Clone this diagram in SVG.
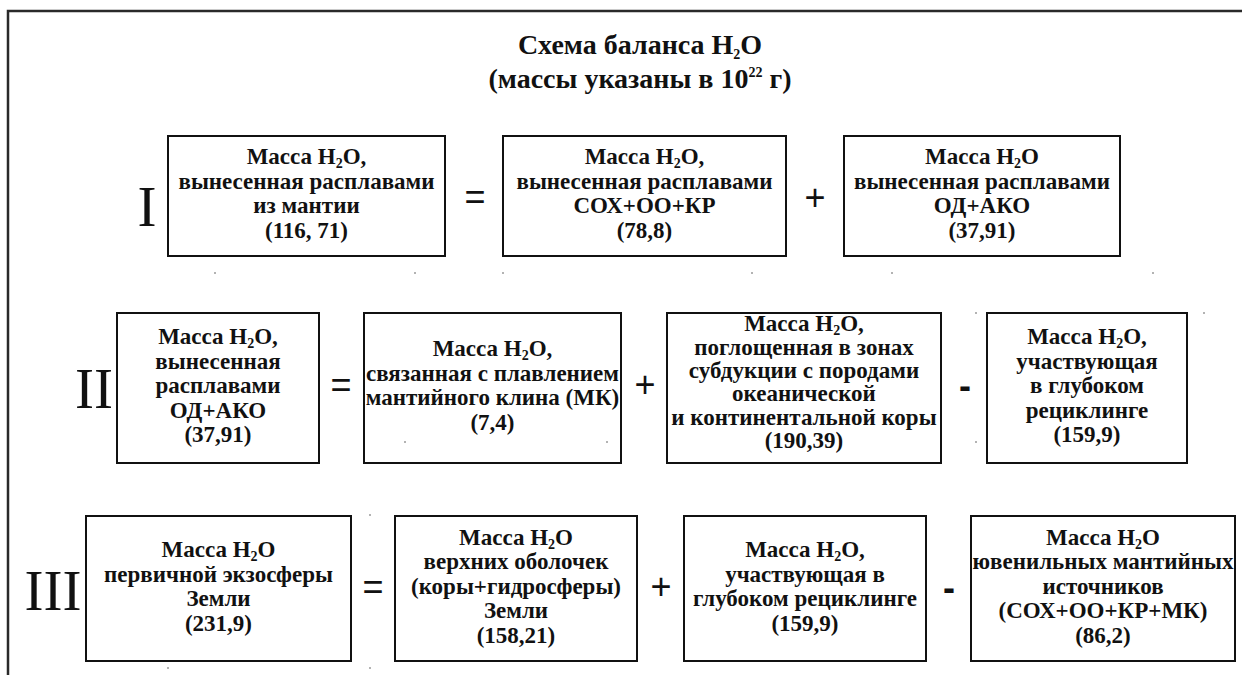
<svg xmlns="http://www.w3.org/2000/svg" width="1242" height="675" viewBox="0 0 1242 675">
  <style>
    .frame { fill: none; stroke: #2a2a2a; stroke-width: 2.5; }
    .box { fill: #fff; stroke: #111; stroke-width: 2; }
    .t { font-family: "Liberation Serif", "Times New Roman", serif; font-weight: bold; font-size: 23px; text-anchor: middle; fill: #111; }
    .title { font-family: "Liberation Serif", "Times New Roman", serif; font-weight: bold; font-size: 28px; text-anchor: middle; fill: #111; }
    .sub { font-size: 14px; }
    .num { font-family: "Liberation Serif", "Times New Roman", serif; font-size: 57px; text-anchor: middle; fill: #111; }
    .op { font-family: "Liberation Sans", Arial, sans-serif; font-size: 36px; text-anchor: middle; fill: #111; }
    .minus { font-family: "Liberation Sans", Arial, sans-serif; font-weight: bold; font-size: 36px; text-anchor: middle; fill: #111; }
    .dot { fill: #9a9a9a; }
  </style>

  <rect width="1242" height="675" fill="#fff"/>
  <!-- page frame: left and top edges only -->
  <path class="frame" d="M8,675 V11 H1242"/>

  <!-- heading -->
  <g id="title">
    <text class="title" x="640" y="54">Схема баланса H<tspan class="sub" font-size="17" dy="5">2</tspan><tspan dy="-5">O</tspan></text>
    <text class="title" x="640" y="88">(массы указаны в 10<tspan class="sub" font-size="15" dy="-11">22</tspan><tspan dy="11"> г)</tspan></text>
  </g>

  <!-- row numbers -->
  <g id="row-labels">
    <text class="num" x="147" y="226">I</text>
    <text class="num" x="94" y="408">II</text>
    <text class="num" x="53" y="610">III</text>
  </g>

  <!-- Row I -->
  <g id="r1-total">
    <rect class="box" x="168" y="136" width="277" height="120"/>
    <text class="t" x="306.5" y="164">Масса H<tspan class="sub" dy="4">2</tspan><tspan dy="-4">O,</tspan></text>
    <text class="t" x="306.5" y="189">вынесенная расплавами</text>
    <text class="t" x="306.5" y="213">из мантии</text>
    <text class="t" x="306.5" y="238">(116, 71)</text>
  </g>
  <g id="r1-sox">
    <rect class="box" x="503" y="136" width="283" height="120"/>
    <text class="t" x="644.5" y="164">Масса H<tspan class="sub" dy="4">2</tspan><tspan dy="-4">O,</tspan></text>
    <text class="t" x="644.5" y="189">вынесенная расплавами</text>
    <text class="t" x="644.5" y="213">СОХ+ОО+КР</text>
    <text class="t" x="644.5" y="238">(78,8)</text>
  </g>
  <g id="r1-od">
    <rect class="box" x="844" y="136" width="276" height="120"/>
    <text class="t" x="982" y="164">Масса H<tspan class="sub" dy="4">2</tspan><tspan dy="-4">O</tspan></text>
    <text class="t" x="982" y="189">вынесенная расплавами</text>
    <text class="t" x="982" y="213">ОД+АКО</text>
    <text class="t" x="982" y="238">(37,91)</text>
  </g>

  <!-- Row II -->
  <g id="r2-od">
    <rect class="box" x="117" y="313" width="202" height="150"/>
    <text class="t" x="218" y="344">Масса H<tspan class="sub" dy="4">2</tspan><tspan dy="-4">O,</tspan></text>
    <text class="t" x="218" y="368.5">вынесенная</text>
    <text class="t" x="218" y="393">расплавами</text>
    <text class="t" x="218" y="417.5">ОД+АКО</text>
    <text class="t" x="218" y="442">(37,91)</text>
  </g>
  <g id="r2-mk">
    <rect class="box" x="364" y="313" width="257" height="150"/>
    <text class="t" x="492.5" y="356">Масса H<tspan class="sub" dy="4">2</tspan><tspan dy="-4">O,</tspan></text>
    <text class="t" x="492.5" y="380.5">связанная с плавлением</text>
    <text class="t" x="492.5" y="405">мантийного клина (МК)</text>
    <text class="t" x="492.5" y="429.5">(7,4)</text>
  </g>
  <g id="r2-subduction">
    <rect class="box" x="667" y="313" width="274" height="150"/>
    <text class="t" x="804" y="331">Масса H<tspan class="sub" dy="4">2</tspan><tspan dy="-4">O,</tspan></text>
    <text class="t" x="804" y="354.5">поглощенная в зонах</text>
    <text class="t" x="804" y="378">субдукции с породами</text>
    <text class="t" x="804" y="401">океанической</text>
    <text class="t" x="804" y="424.5">и континентальной коры</text>
    <text class="t" x="804" y="448">(190,39)</text>
  </g>
  <g id="r2-recycling">
    <rect class="box" x="987" y="313" width="200" height="150"/>
    <text class="t" x="1087" y="344">Масса H<tspan class="sub" dy="4">2</tspan><tspan dy="-4">O,</tspan></text>
    <text class="t" x="1087" y="368.5">участвующая</text>
    <text class="t" x="1087" y="393">в глубоком</text>
    <text class="t" x="1087" y="417.5">рециклинге</text>
    <text class="t" x="1087" y="442">(159,9)</text>
  </g>

  <!-- Row III -->
  <g id="r3-exosphere">
    <rect class="box" x="86" y="516" width="265" height="145"/>
    <text class="t" x="218.5" y="557">Масса H<tspan class="sub" dy="4">2</tspan><tspan dy="-4">O</tspan></text>
    <text class="t" x="218.5" y="581.5">первичной экзосферы</text>
    <text class="t" x="218.5" y="606">Земли</text>
    <text class="t" x="218.5" y="630.5">(231,9)</text>
  </g>
  <g id="r3-shells">
    <rect class="box" x="395" y="516" width="242" height="145"/>
    <text class="t" x="516" y="544.5">Масса H<tspan class="sub" dy="4">2</tspan><tspan dy="-4">O</tspan></text>
    <text class="t" x="516" y="569">верхних оболочек</text>
    <text class="t" x="516" y="593.5">(коры+гидросферы)</text>
    <text class="t" x="516" y="618">Земли</text>
    <text class="t" x="516" y="642.5">(158,21)</text>
  </g>
  <g id="r3-recycling">
    <rect class="box" x="684" y="516" width="242" height="145"/>
    <text class="t" x="805" y="557">Масса H<tspan class="sub" dy="4">2</tspan><tspan dy="-4">O,</tspan></text>
    <text class="t" x="805" y="581.5">участвующая в</text>
    <text class="t" x="805" y="606">глубоком рециклинге</text>
    <text class="t" x="805" y="630.5">(159,9)</text>
  </g>
  <g id="r3-juvenile">
    <rect class="box" x="971" y="516" width="264" height="145"/>
    <text class="t" x="1103" y="544.5">Масса H<tspan class="sub" dy="4">2</tspan><tspan dy="-4">O</tspan></text>
    <text class="t" x="1103" y="569">ювенильных мантийных</text>
    <text class="t" x="1103" y="593.5">источников</text>
    <text class="t" x="1103" y="618">(СОХ+ОО+КР+МК)</text>
    <text class="t" x="1103" y="642.5">(86,2)</text>
  </g>

  <!-- equation operators between the boxes -->
  <g id="connectors">
    <text class="op" x="475" y="209">=</text>
    <text class="op" x="815" y="210">+</text>
    <text class="op" x="341" y="397">=</text>
    <text class="op" x="645" y="397">+</text>
    <text class="minus" x="965" y="398">-</text>
    <text class="op" x="373" y="599">=</text>
    <text class="op" x="661" y="599">+</text>
    <text class="minus" x="949" y="600">-</text>
  </g>

  <!-- stray specks -->
  <g id="specks">
    <circle class="dot" cx="215" cy="273" r="1"/>
    <circle class="dot" cx="415" cy="273" r="1"/>
    <circle class="dot" cx="503" cy="273" r="1"/>
    <circle class="dot" cx="752" cy="273" r="1"/>
    <circle class="dot" cx="892" cy="273" r="1"/>
    <circle class="dot" cx="1153" cy="273" r="1"/>
    <circle class="dot" cx="405" cy="442" r="1"/>
    <circle class="dot" cx="607" cy="442" r="1"/>
    <circle class="dot" cx="976" cy="313" r="1"/>
    <circle class="dot" cx="1204" cy="313" r="1"/>
    <circle class="dot" cx="976" cy="442" r="1"/>
    <circle class="dot" cx="370" cy="515" r="1"/>
    <circle class="dot" cx="168" cy="668" r="1"/>
    <circle class="dot" cx="370" cy="668" r="1"/>
  </g>
</svg>
